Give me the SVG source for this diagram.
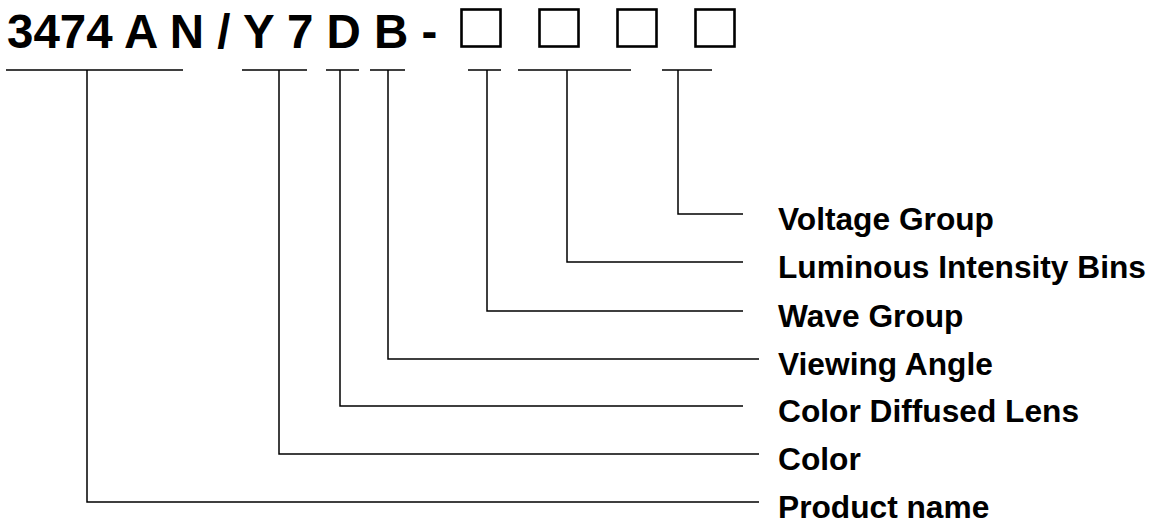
<svg xmlns="http://www.w3.org/2000/svg" width="1152" height="525" viewBox="0 0 1152 525">
<style>
.t{font-family:"Liberation Sans",Arial,sans-serif;font-weight:bold;fill:#000}
.h{font-size:47.5px}
.l{font-size:31.7px}
.c{fill:none;stroke:#000;stroke-width:1.5}
.b{fill:none;stroke:#000;stroke-width:2.6}
</style>
<rect width="1152" height="525" fill="#fff"/>
<g id="title">
<text class="t h" x="7" y="48">3474 A N / Y 7 D B -</text>
<rect class="b" x="461.5" y="9.5" width="39" height="37"/>
<rect class="b" x="539.5" y="9.5" width="39" height="37"/>
<rect class="b" x="617.5" y="9.5" width="39" height="37"/>
<rect class="b" x="695.5" y="9.5" width="39" height="37"/>
</g>
<g id="connectors" class="c">
<path d="M6 70H183M87 70V502H759"/>
<path d="M242 70H307M279 70V454H759"/>
<path d="M326 70H359M340 70V406H743"/>
<path d="M370 70H405M388 70V359H759"/>
<path d="M468 70H501M487 70V311H743"/>
<path d="M518 70H631M567 70V262H743"/>
<path d="M662 70H712M678 70V214H743"/>
</g>
<g id="voltage"><text class="t l" x="778" y="230">Voltage Group</text></g>
<g id="luminous"><text class="t l" x="778" y="278">Luminous Intensity Bins</text></g>
<g id="wave"><text class="t l" x="778" y="327">Wave Group</text></g>
<g id="viewing"><text class="t l" x="778" y="375">Viewing Angle</text></g>
<g id="lens"><text class="t l" x="778" y="422">Color Diffused Lens</text></g>
<g id="color"><text class="t l" x="778" y="470">Color</text></g>
<g id="product"><text class="t l" x="778" y="518">Product name</text></g>
</svg>
